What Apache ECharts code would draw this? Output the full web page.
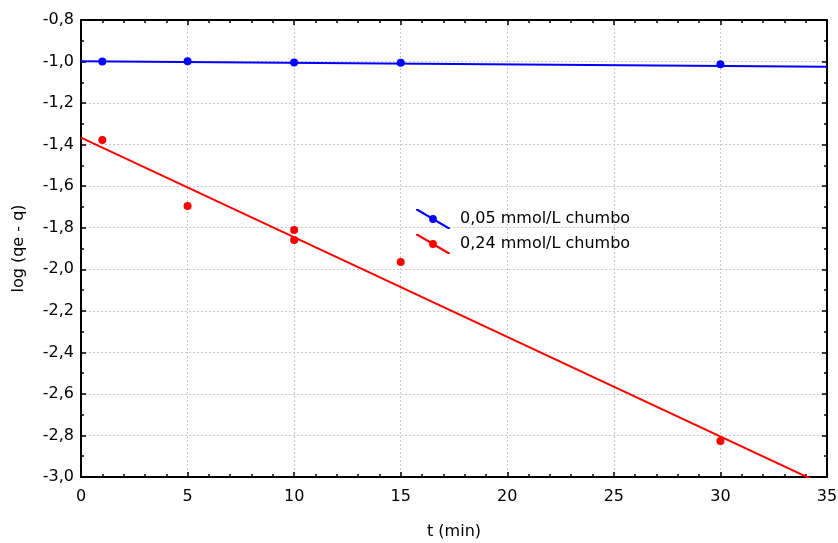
<!DOCTYPE html>
<html><head><meta charset="utf-8">
<script src="https://cdn.jsdelivr.net/npm/echarts@6/dist/echarts.min.js"></script>
<style>html,body{margin:0;padding:0;background:#fff}#c{width:838px;height:543px}</style>
</head><body><div id="c"></div>
<script>
const seriesNames = ['0,05 mmol/L chumbo', '0,24 mmol/L chumbo'];
const blueX = [1, 5, 10, 15, 30];
const blueY = [-1.0, -0.998, -1.005, -1.006, -1.013];
const blueFitX = [0, 35];
const blueFitY = [-0.998, -1.025];
const redX = [1, 5, 10, 10, 15, 30];
const redY = [-1.378, -1.695, -1.811, -1.859, -1.965, -2.827];
const redFitX = [0, 35];
const redFitY = [-1.366, -3.045];
const xTicks = [0, 5, 10, 15, 20, 25, 30, 35];
const yTicks = [-3.0, -2.8, -2.6, -2.4, -2.2, -2.0, -1.8, -1.6, -1.4, -1.2, -1.0, -0.8];

const zip = (a, b) => a.map((v, i) => [v, b[i]]);
const icon = 'path://M0,0 L2.2,0 L34,18.7 L34,20 L31.8,20 L0,1.3 Z M13.1,10 A3.9,3.9 0 1,1 20.9,10 A3.9,3.9 0 1,1 13.1,10 Z M39,0 L39,0.01 L38.99,0 Z M39,20 L39,19.99 L38.99,20 Z';
const font = 'DejaVu Sans, sans-serif';

const chart = echarts.init(document.getElementById('c'));
const axisCommon = {
  axisLine: { show: true, onZero: false, lineStyle: { color: '#000', width: 2 } },
  axisTick: { show: true, inside: true, length: 5, lineStyle: { color: '#000', width: 1.5 } },
  minorTick: { show: true, length: 3, lineStyle: { color: '#000', width: 1.5 } }
};
chart.setOption({
  animation: false,
  grid: { left: 81, right: 11, top: 20, bottom: 66, containLabel: false, outerBoundsMode: 'none' },
  legend: {
    left: 416, top: 209, padding: 0, orient: 'vertical', itemWidth: 39, itemHeight: 20, itemGap: 5,
    textStyle: { fontFamily: font, fontSize: 16, color: '#000' },
    data: seriesNames.map(n => ({ name: n, icon: icon }))
  },
  xAxis: [
    Object.assign({}, axisCommon, {
      type: 'value', min: 0, max: 35, interval: 5,
      name: 't (min)', nameLocation: 'middle', nameGap: 47,
      nameTextStyle: { fontFamily: font, fontSize: 16, color: '#000' },
      axisLabel: { fontFamily: font, fontSize: 16, color: '#000', margin: 12,
        formatter: v => xTicks.includes(v) ? String(v) : '' },
      minorTick: Object.assign({}, axisCommon.minorTick, { splitNumber: 5 }),
      splitLine: { show: true, lineStyle: { color: '#c8c8c8', type: [2, 2], width: 1 } }
    }),
    Object.assign({}, axisCommon, {
      type: 'value', min: 0, max: 35, interval: 5, position: 'top',
      axisLabel: { show: false },
      minorTick: Object.assign({}, axisCommon.minorTick, { splitNumber: 5 }),
      splitLine: { show: false }
    })
  ],
  yAxis: [
    Object.assign({}, axisCommon, {
      type: 'value', min: -3.0, max: -0.8, interval: 0.2,
      name: 'log (qe - q)', nameLocation: 'middle', nameGap: 54, nameRotate: 90,
      nameTextStyle: { fontFamily: font, fontSize: 16, color: '#000' },
      axisLabel: { fontFamily: font, fontSize: 16, color: '#000', margin: 7,
        formatter: v => { const t = yTicks.find(y => Math.abs(y - v) < 1e-6); return t === undefined ? '' : t.toFixed(1).replace('.', ','); } },
      minorTick: Object.assign({}, axisCommon.minorTick, { splitNumber: 2 }),
      splitLine: { show: true, lineStyle: { color: '#c8c8c8', type: [2, 2], width: 1 } }
    }),
    Object.assign({}, axisCommon, {
      type: 'value', min: -3.0, max: -0.8, interval: 0.2, position: 'right',
      axisLabel: { show: false },
      minorTick: Object.assign({}, axisCommon.minorTick, { splitNumber: 2 }),
      splitLine: { show: false }
    })
  ],
  series: [
    { name: seriesNames[0], type: 'line', data: zip(blueFitX, blueFitY), showSymbol: false, clip: true,
      lineStyle: { color: '#0000ff', width: 2 }, itemStyle: { color: '#0000ff' } },
    { name: seriesNames[0], type: 'scatter', data: zip(blueX, blueY), symbolSize: 8,
      itemStyle: { color: '#0000ff', opacity: 1 } },
    { name: seriesNames[1], type: 'line', data: zip(redFitX, redFitY), showSymbol: false, clip: true,
      lineStyle: { color: '#ff0000', width: 2 }, itemStyle: { color: '#ff0000' } },
    { name: seriesNames[1], type: 'scatter', data: zip(redX, redY), symbolSize: 8,
      itemStyle: { color: '#ff0000', opacity: 1 } }
  ]
});
</script></body></html>
